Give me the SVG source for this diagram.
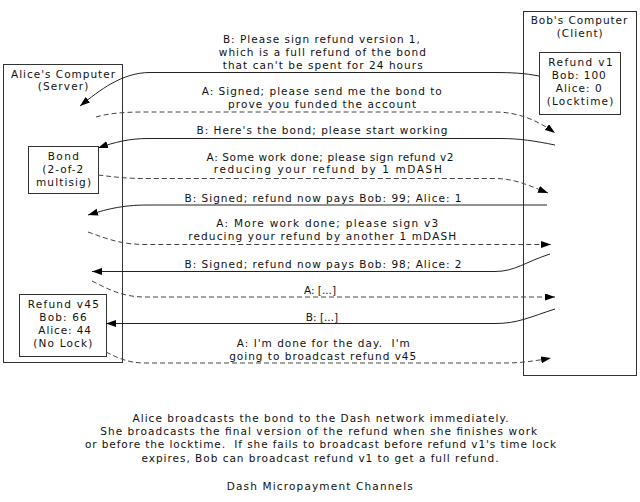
<svg xmlns="http://www.w3.org/2000/svg" width="640" height="502" viewBox="0 0 640 502">
<style>
text{font-family:"DejaVu Sans","Liberation Sans",sans-serif;font-size:10.5px;fill:#111;text-anchor:middle;white-space:pre}
.box{fill:none;stroke:#333;stroke-width:1}
.e{fill:none;stroke:#222;stroke-width:1}
.d{stroke-dasharray:5,3;stroke:#444}
</style>
<defs>
<marker id="ah" markerUnits="userSpaceOnUse" markerWidth="11" markerHeight="8" refX="10" refY="3.5" orient="auto"><path d="M0,0 L10,3.5 L0,7 z" fill="#000"/></marker>
</defs>
<rect width="640" height="502" fill="#fff"/>
<g id="alice">
<rect class="box" x="3.5" y="64.5" width="119" height="298"/>
<text x="63" y="77.5" textLength="104">Alice's Computer</text>
<text x="63" y="90" textLength="50.7">(Server)</text>
</g>
<g id="bob">
<rect class="box" x="523.5" y="11.5" width="113" height="364"/>
<text x="579" y="24" textLength="96.7">Bob's Computer</text>
<text x="579.7" y="36.5" textLength="46">(Client)</text>
</g>
<g id="refund-v1">
<rect class="box" x="539.5" y="52.5" width="81" height="62"/>
<text x="580.5" y="66" textLength="64.3">Refund v1</text>
<text x="578.8" y="79" textLength="54">Bob: 100</text>
<text x="578.7" y="92" textLength="46">Alice: 0</text>
<text x="580" y="105" textLength="66.7">(Locktime)</text>
</g>
<g id="bond">
<rect class="box" x="28.5" y="146.5" width="70" height="47"/>
<text x="63.3" y="159.5" textLength="31.3">Bond</text>
<text x="62.8" y="172.5" textLength="41">(2-of-2</text>
<text x="63.5" y="185.5" textLength="55">multisig)</text>
</g>
<g id="refund-v45">
<rect class="box" x="19.5" y="294.5" width="87" height="62"/>
<text x="63.3" y="307.5" textLength="71.3">Refund v45</text>
<text x="63" y="320.5" textLength="47.3">Bob: 66</text>
<text x="64.7" y="333.5" textLength="52.7">Alice: 44</text>
<text x="62.8" y="346.5" textLength="59">(No Lock)</text>
</g>
<g id="connectors">
<path class="e" marker-end="url(#ah)" d="M539,76 C525,73 510,72.5 495,72.5 L150,72.5 C122,72.5 100,90 80,106"/>
<path class="e d" marker-end="url(#ah)" d="M96,117 C110,113 125,112 145,112 L495,112 C520,112 540,122 555,133"/>
<path class="e" marker-end="url(#ah)" d="M555,145 C535,141 520,138.5 500,138.5 L148,138.5 C130,138.5 115,142 98,148"/>
<path class="e d" marker-end="url(#ah)" d="M98,175 C115,177 125,178.5 145,178.5 L495,178.5 C515,178.5 530,186 548,193"/>
<path class="e" marker-end="url(#ah)" d="M547,205 L148,205 C120,205 105,210 88,215"/>
<path class="e d" marker-end="url(#ah)" d="M88,232 C105,238 120,244.5 145,244.5 L551,244.5"/>
<path class="e" marker-end="url(#ah)" d="M550,254 C525,262 515,271.5 495,271.5 L92,271.5"/>
<path class="e d" marker-end="url(#ah)" d="M92,281 C108,289 122,297 145,297 L555,297"/>
<path class="e" marker-end="url(#ah)" d="M555,309 C530,317 518,323.5 495,323.5 L106,323.5"/>
<path class="e d" marker-end="url(#ah)" d="M106,352 C118,358 128,363 145,363 L505,363 C520,363 535,361 551,358"/>
<text x="321.4" y="43" textLength="197">B: Please sign refund version 1,</text>
<text x="322.3" y="56" textLength="207">which is a full refund of the bond</text>
<text x="322.7" y="68.5" textLength="200">that can't be spent for 24 hours</text>
<text x="321.7" y="95" textLength="240">A: Signed; please send me the bond to</text>
<text x="322" y="107.5" textLength="188">prove you funded the account</text>
<text x="322" y="134" textLength="251">B: Here's the bond; please start working</text>
<text x="330" y="160.7" textLength="247">A: Some work done; please sign refund v2</text>
<text x="327.8" y="173.3" textLength="228">reducing your refund by 1 mDASH</text>
<text x="323" y="201.5" textLength="277">B: Signed; refund now pays Bob: 99; Alice: 1</text>
<text x="327.2" y="226.7" textLength="222">A: More work done; please sign v3</text>
<text x="322.2" y="240" textLength="268">reducing your refund by another 1 mDASH</text>
<text x="323" y="268.3" textLength="277">B: Signed; refund now pays Bob: 98; Alice: 2</text>
<text x="320" y="294">A: [...]</text>
<text x="322" y="320.5">B: [...]</text>
<text x="323.3" y="346.7" textLength="173">A: I'm done for the day.  I'm</text>
<text x="322.7" y="360" textLength="187">going to broadcast refund v45</text>
</g>
<g id="caption">
<text x="320.5" y="421.7" textLength="376">Alice broadcasts the bond to the Dash network immediately.</text>
<text x="318.7" y="434.5" textLength="437">She broadcasts the final version of the refund when she finishes work</text>
<text x="320.5" y="448" textLength="471">or before the locktime.  If she fails to broadcast before refund v1's time lock</text>
<text x="320" y="461.5" textLength="357">expires, Bob can broadcast refund v1 to get a full refund.</text>
<text x="319.7" y="490" textLength="186">Dash Micropayment Channels</text>
</g>
</svg>
